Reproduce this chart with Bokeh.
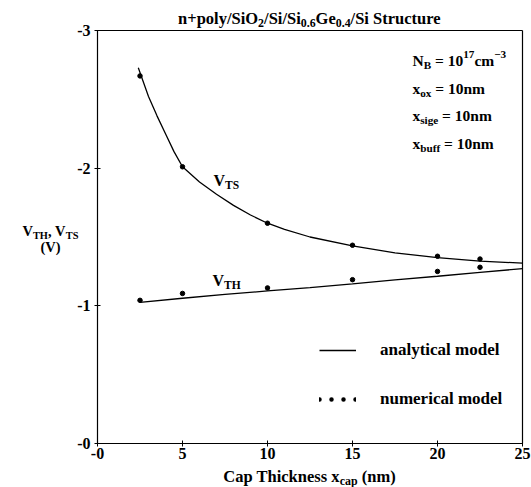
from bokeh.plotting import figure
from bokeh.models import (Range1d, FixedTicker, Label, Legend, LegendItem, LinearAxis,
                          ColumnDataSource)
from bokeh.embed import file_html
from bokeh.resources import INLINE

# ---------------- data ----------------
# analytical model curves
vts_model_x = [2.4, 3, 3.5, 4, 4.5, 5, 6, 7, 8, 9, 10, 11, 12.5, 15, 17.5, 20, 22.5, 25]
vts_model_y = [-2.73, -2.52, -2.38, -2.25, -2.12, -2.01, -1.90, -1.81, -1.73, -1.66,
               -1.60, -1.555, -1.50, -1.435, -1.385, -1.35, -1.325, -1.31]
vth_model_x = [2.5, 5, 7.5, 10, 12.5, 15, 17.5, 20, 22.5, 25]
vth_model_y = [-1.025, -1.055, -1.083, -1.108, -1.133, -1.16, -1.188, -1.215, -1.243, -1.27]

# numerical model points
num_x = [2.5, 5, 10, 15, 20, 22.5]
vts_num_y = [-2.67, -2.01, -1.60, -1.44, -1.36, -1.34]
vth_num_y = [-1.04, -1.09, -1.13, -1.19, -1.25, -1.28]

x_ticks = [0, 5, 10, 15, 20, 25]
x_tick_labels = ["-0", "5", "10", "15", "20", "25"]
y_ticks = [0, -1, -2, -3]
y_tick_labels = ["-0", "-1", "-2", "-3"]

legend_labels = ["analytical model", "numerical model"]

FONT = "Liberation Serif"
SUB = 0.72

# Times-Bold advance widths (per 1000 em) for laying out sub/superscripts
TB = {' ': 250, '+': 570, '-': 333, '−': 570, '.': 250, '/': 278, '=': 570, ',': 250,
      '(': 333, ')': 333, '0': 500, '1': 500, '2': 500, '3': 500, '4': 500, '5': 500,
      '6': 500, '7': 500, '8': 500, '9': 500,
      'A': 722, 'B': 667, 'C': 722, 'G': 778, 'H': 778, 'N': 722, 'O': 778, 'S': 556,
      'T': 667, 'V': 722,
      'a': 500, 'b': 556, 'c': 444, 'd': 556, 'e': 444, 'f': 333, 'g': 500, 'h': 556,
      'i': 278, 'k': 556, 'l': 278, 'm': 833, 'n': 556, 'o': 500, 'p': 556, 'r': 444,
      's': 389, 't': 333, 'u': 556, 'x': 500, 'y': 500}


def tw(s, size):
    return sum(TB.get(c, 500) for c in s) * size / 1000.0


def rich(p, x, y, segs, size, align="left"):
    """segs: list of (text, kind) with kind in 'n', 'sub', 'sup'"""
    small = size * SUB
    widths = [tw(t, size if k == "n" else small) for t, k in segs]
    total = sum(widths)
    off = -total / 2.0 if align == "center" else 0.0
    for (t, k), w in zip(segs, widths):
        sz = size if k == "n" else small
        dy = 0.0
        if k == "sub":
            dy = -0.28 * size
        elif k == "sup":
            dy = 0.36 * size
        lead = len(t) - len(t.lstrip(" "))
        shown = t.strip(" ")
        p.add_layout(Label(x=x, y=y, x_offset=off + tw(" " * lead, sz), y_offset=dy, text=shown,
                           text_align="left", text_baseline="middle",
                           text_font=FONT, text_font_style="bold",
                           text_font_size=f"{sz:.1f}px", text_color="black"))
        off += w


# plot box: x = 0 at 97 px, 25 at 522 px; y = 0 at 443 px, -3 at 30 px
PX_X = 425 / 25.0
PX_Y = 413 / 3.0
W, H = 531, 487
p = figure(width=W, height=H,
           x_range=Range1d(-97 / PX_X, 25 + (W - 522) / PX_X),
           y_range=Range1d((H - 443) / PX_Y, -3 - 30 / PX_Y),
           x_axis_location=None, y_axis_location=None,
           output_backend="svg", toolbar_location=None, min_border=0)
p.grid.visible = False
p.outline_line_color = None


def style_axis(ax, ticks, labels):
    ax.ticker = FixedTicker(ticks=ticks)
    ax.major_label_overrides = {t: l for t, l in zip(ticks, labels)}
    ax.minor_tick_line_color = None
    ax.major_tick_in = 3
    ax.major_tick_out = 3
    ax.axis_line_color = "black"
    ax.axis_line_width = 1.2
    ax.major_tick_line_color = "black"
    ax.major_label_text_font = FONT
    ax.major_label_text_font_style = "bold"
    ax.major_label_text_font_size = "16px"
    ax.major_label_text_color = "black"


xax = LinearAxis(fixed_location=0, bounds=(0, 25))
style_axis(xax, x_ticks, x_tick_labels)
xax.major_label_standoff = 1
p.add_layout(xax, "below")

yax = LinearAxis(fixed_location=0, bounds=(-3, 0))
style_axis(yax, y_ticks, y_tick_labels)
yax.major_label_standoff = 4
p.add_layout(yax, "left")

top = LinearAxis(fixed_location=-3, bounds=(0, 25))
style_axis(top, [], [])
top.major_tick_line_color = None
p.add_layout(top, "above")

right = LinearAxis(fixed_location=25, bounds=(-3, 0))
style_axis(right, [], [])
right.major_tick_line_color = None
p.add_layout(right, "right")

# curves
ts_line = p.line(vts_model_x, vts_model_y, line_color="black", line_width=1.3)
p.line(vth_model_x, vth_model_y, line_color="black", line_width=1.3)
p.scatter(num_x, vts_num_y, size=4.5, color="black")
p.scatter(num_x, vth_num_y, size=4.5, color="black")

# legend sample for numerical model (dotted); a single-point line draws nothing on the plot
dot_src = ColumnDataSource(data=dict(x=num_x[:1], y=vts_num_y[:1]))
dots = p.line("x", "y", source=dot_src, line_color="black", line_width=4.5,
              line_cap="round", line_dash="0 12")

legend = Legend(items=[LegendItem(label=legend_labels[0], renderers=[ts_line]),
                       LegendItem(label=legend_labels[1], renderers=[dots])],
                location=(319, H - 409), orientation="vertical",
                glyph_width=37, glyph_height=20, label_height=20, label_standoff=24,
                spacing=29, padding=0, margin=0,
                border_line_color=None, background_fill_alpha=0,
                label_text_font=FONT, label_text_font_style="bold",
                label_text_font_size="17px", label_text_color="black")
p.add_layout(legend)

# title
rich(p, 12.47, -3.087, [("n+poly/SiO", "n"), ("2", "sub"), ("/Si/Si", "n"), ("0.6", "sub"),
                        ("Ge", "n"), ("0.4", "sub"), ("/Si Structure", "n")], 16.5, "center")

# parameters
rich(p, 18.53, -2.782, [("N", "n"), ("B", "sub"), (" = 10", "n"), ("17", "sup"),
                        ("cm", "n"), ("−3", "sup")], 15.5)
rich(p, 18.53, -2.579, [("x", "n"), ("ox", "sub"), (" = 10nm", "n")], 15.5)
rich(p, 18.53, -2.383, [("x", "n"), ("sige", "sub"), (" = 10nm", "n")], 15.5)
rich(p, 18.53, -2.179, [("x", "n"), ("buff", "sub"), (" = 10nm", "n")], 15.5)

# curve labels
rich(p, 6.82, -1.91, [("V", "n"), ("TS", "sub")], 16)
rich(p, 6.76, -1.184, [("V", "n"), ("TH", "sub")], 16)

# axis titles
rich(p, -2.765, -1.54, [("V", "n"), ("TH", "sub"), (", V", "n"), ("TS", "sub")], 14.5, "center")
rich(p, -2.765, -1.424, [("(V)", "n")], 14.5, "center")
rich(p, 12.47, 0.24, [("Cap Thickness x", "n"), ("cap", "sub"), (" (nm)", "n")], 16.5, "center")

open("out.html", "w").write(file_html(p, INLINE))
